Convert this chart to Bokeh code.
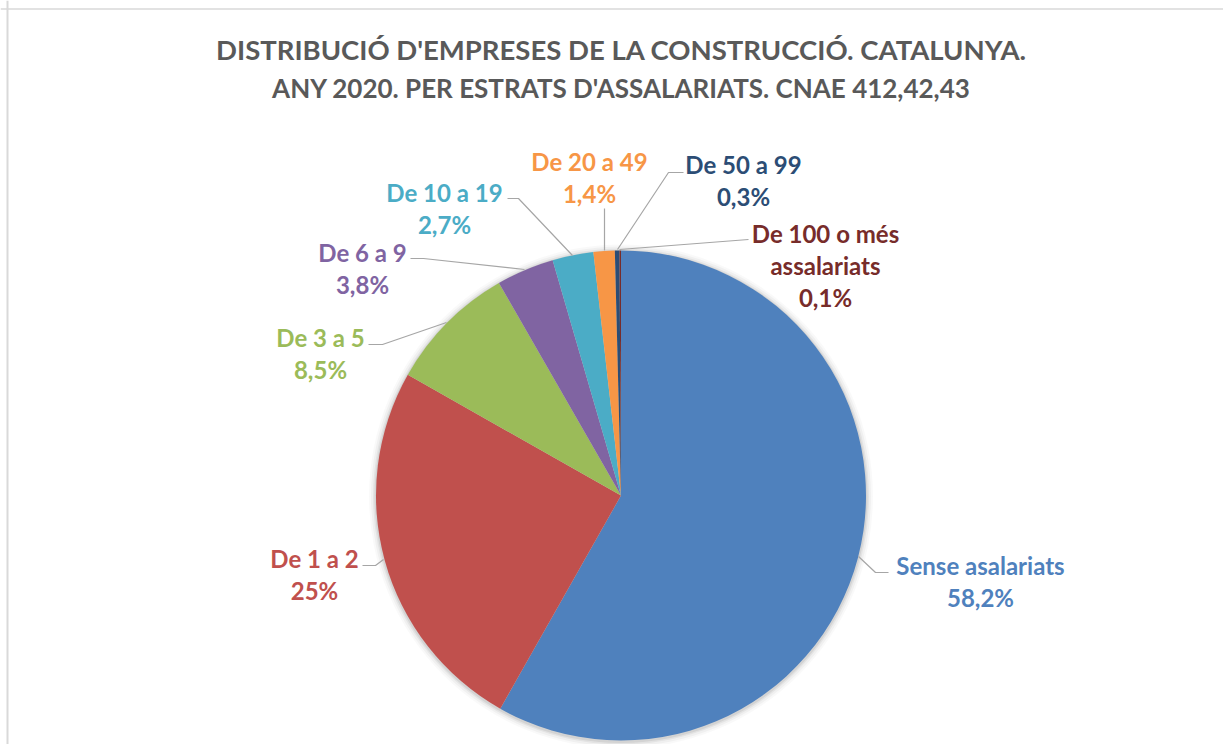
import numpy as np
from bokeh.plotting import figure
from bokeh.models import Range1d, Span, ColumnDataSource
from bokeh.core.properties import value
from bokeh.embed import file_html
from bokeh.resources import INLINE

# ---------------- data ----------------
categories = ["Sense asalariats", "De 1 a 2", "De 3 a 5", "De 6 a 9",
              "De 10 a 19", "De 20 a 49", "De 50 a 99", "De 100 o més\nassalariats"]
shares = [58.2, 25, 8.5, 3.8, 2.7, 1.4, 0.3, 0.1]
colors = ["#4F81BD", "#C0504D", "#9BBB59", "#8064A2",
          "#4BACC6", "#F79646", "#2C4D75", "#772C2A"]
title_lines = ["DISTRIBUCIÓ D'EMPRESES DE LA CONSTRUCCIÓ. CATALUNYA.",
               "ANY 2020. PER ESTRATS D'ASSALARIATS. CNAE 412,42,43"]

# ---------------- layout (screenshot pixel coords) ----------------
W, H = 1223, 744
def px(x): return x
def py(y): return H - y

CX, CY, R = 620.5, 495, 245
label_pos = [(980, 565), (314, 558), (320, 337), (362, 252),
             (444, 192), (589, 161), (743, 164), (825, 233)]
leaders = [[(858, 556), (875, 572), (888, 572)],
           [(362, 565), (375, 565), (383, 559)],
           [(368, 344), (382, 344), (446, 322)],
           [(410, 258), (423, 258), (524, 269)],
           [(507, 198), (518, 198), (572, 255)],
           [(604, 208), (604, 250)],
           [(683, 172), (668, 172), (617, 249)],
           [(748, 239), (619, 249)]]
LINE_H = 32
FONT = "Lato"

p = figure(width=W, height=H, output_backend="svg", toolbar_location=None,
           x_range=Range1d(0, W), y_range=Range1d(0, H), min_border=0)
p.axis.visible = False
p.grid.visible = False
p.outline_line_color = None
p.background_fill_color = "white"
p.border_fill_color = "white"

# chart border (top and left visible)
p.add_layout(Span(location=px(7), dimension="height", line_color="#d9d9d9", line_width=2))
p.add_layout(Span(location=py(8.5), dimension="width", line_color="#d9d9d9", line_width=1.5))

# soft shadow
for k, a in [(7, 0.025), (5, 0.035), (3, 0.05), (1.5, 0.07)]:
    p.circle(x=[px(CX)], y=[py(CY) - 1], radius=R + k, fill_color="black",
             fill_alpha=a, line_color=None)

# wedges
vals = np.array(shares, dtype=float)
frac = vals / vals.sum()
cum = np.concatenate([[0], np.cumsum(frac)])
start = np.pi / 2 - 2 * np.pi * cum[:-1]
end = np.pi / 2 - 2 * np.pi * cum[1:]
src = ColumnDataSource(dict(start=start, end=end, color=colors))
p.wedge(x=px(CX), y=py(CY), radius=R, start_angle="start", end_angle="end",
        direction="clock", fill_color="color", line_color=None, source=src)

# leader lines
p.multi_line(xs=[[px(a) for a, b in L] for L in leaders],
             ys=[[py(b) for a, b in L] for L in leaders],
             line_color="#a6a6a6", line_width=1.2)

# labels
def fmt(v):
    return f"{v:g}".replace(".", ",") + "%"

tx, ty, tt, tc = [], [], [], []
for cat, v, c, (lx, ly) in zip(categories, shares, colors, label_pos):
    lines = cat.split("\n") + [fmt(v)]
    for i, ln in enumerate(lines):
        tx.append(px(lx))
        ty.append(py(ly + i * LINE_H))
        tt.append(ln)
        tc.append(c)
lsrc = ColumnDataSource(dict(x=tx, y=ty, text=tt, color=tc))
p.text(x="x", y="y", text="text", text_color="color", source=lsrc,
       text_font=value(FONT), text_font_style="bold", text_font_size="24px",
       text_align="center", text_baseline="middle")

# title
p.text(x=[px(621), px(621)], y=[py(49), py(87)], text=title_lines,
       text_color="#595959", text_font=value(FONT), text_font_style="bold",
       text_font_size=["27.5px", "26px"], text_align="center", text_baseline="middle")

open("out.html", "w").write(file_html(p, INLINE))
